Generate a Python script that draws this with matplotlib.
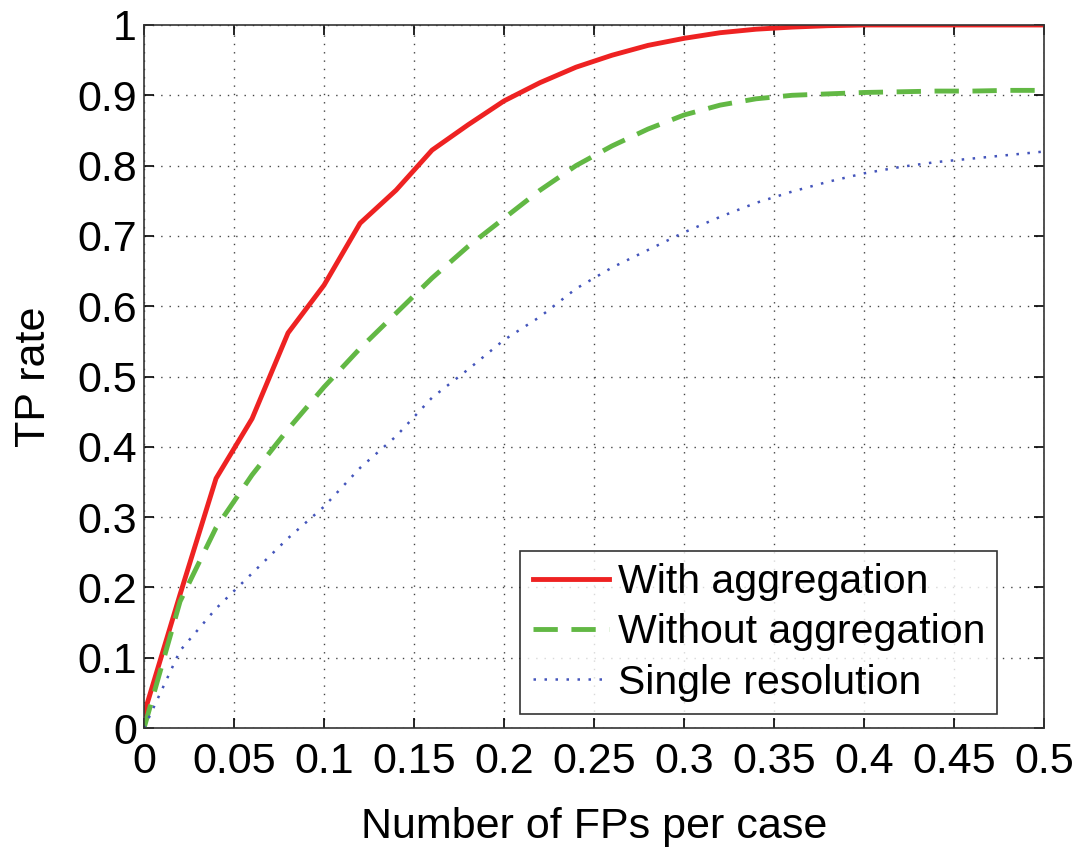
import matplotlib
matplotlib.use("Agg")
import matplotlib.pyplot as plt

plt.rcParams['font.family'] = ['Liberation Sans', 'DejaVu Sans']

fp_per_case = [0.00, 0.02, 0.04, 0.06, 0.08, 0.10, 0.12, 0.14, 0.16, 0.18, 0.20,
               0.22, 0.24, 0.26, 0.28, 0.30, 0.32, 0.34, 0.36, 0.38, 0.40,
               0.42, 0.44, 0.46, 0.48, 0.50]
with_aggregation = [0.02, 0.19, 0.355, 0.44, 0.562, 0.63, 0.718, 0.765, 0.822, 0.858, 0.892,
                    0.918, 0.94, 0.957, 0.971, 0.981, 0.989, 0.994, 0.997, 0.999, 1.0,
                    1.0, 1.0, 1.0, 1.0, 1.0]
without_aggregation = [0.0, 0.18, 0.285, 0.36, 0.425, 0.485, 0.54, 0.59, 0.64, 0.685, 0.725,
                       0.765, 0.80, 0.828, 0.852, 0.872, 0.886, 0.895, 0.90, 0.902, 0.904,
                       0.905, 0.906, 0.906, 0.907, 0.907]
single_resolution = [0.0, 0.11, 0.17, 0.22, 0.27, 0.315, 0.37, 0.415, 0.47, 0.51, 0.552,
                     0.585, 0.625, 0.655, 0.68, 0.705, 0.727, 0.747, 0.763, 0.777, 0.789,
                     0.798, 0.805, 0.81, 0.815, 0.82]

x_ticks = [0, 0.05, 0.1, 0.15, 0.2, 0.25, 0.3, 0.35, 0.4, 0.45, 0.5]
x_tick_labels = ['0', '0.05', '0.1', '0.15', '0.2', '0.25', '0.3', '0.35', '0.4', '0.45', '0.5']
y_ticks = [0, 0.1, 0.2, 0.3, 0.4, 0.5, 0.6, 0.7, 0.8, 0.9, 1]
y_tick_labels = ['0', '0.1', '0.2', '0.3', '0.4', '0.5', '0.6', '0.7', '0.8', '0.9', '1']

FS = 31

fig = plt.figure(figsize=(10.88, 8.5), dpi=100)
ax = fig.add_axes([0.1324, 0.1435, 0.8272, 0.8271])

ax.plot(fp_per_case, with_aggregation, color='#ee2222', lw=3.5, ls='-', label='With aggregation')
ax.plot(fp_per_case, without_aggregation, color='#62b844', lw=3.5, ls=(0, (5.0, 2.8)), label='Without aggregation')
ax.plot(fp_per_case, single_resolution, color='#4455bb', lw=1.8, ls=(0, (1.0, 3.4)), label='Single resolution')

ax.set_xlim(0, 0.5)
ax.set_ylim(0, 1)
ax.set_xticks(x_ticks)
ax.set_xticklabels(x_tick_labels)
ax.set_yticks(y_ticks)
ax.set_yticklabels(y_tick_labels)
ax.tick_params(direction='in', length=7, width=1.2, top=True, right=True, labelsize=FS)
ax.tick_params(axis='x', pad=10)
ax.tick_params(axis='y', pad=5)
ax.grid(True, color='#444444', ls=(0, (1, 5)), lw=1.0)
for s in ax.spines.values():
    s.set_linewidth(1.2)
    s.set_color('#333333')

ax.set_xlabel('Number of FPs per case', fontsize=FS, labelpad=18)
ax.set_ylabel('TP rate', fontsize=FS, labelpad=17)

leg = ax.legend(loc='lower right', bbox_to_anchor=(0.948, 0.02), fontsize=29.5, frameon=True,
                fancybox=False, edgecolor='black', handlelength=1.85, handletextpad=0.22,
                borderpad=0.3, labelspacing=0.3, borderaxespad=0)
leg.get_frame().set_linewidth(1.2)

fig.savefig('out.png', dpi=100, facecolor='white')
